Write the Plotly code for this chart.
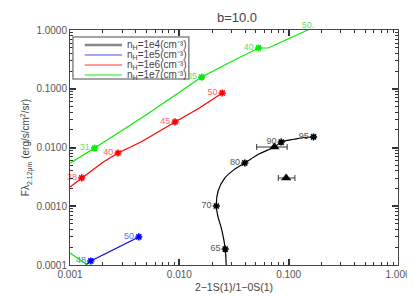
import plotly.graph_objects as go

# ---- data ----
# nH = 1e4 (black) curve
x_e4 = [0.0268, 0.0263, 0.0245, 0.0225, 0.0218, 0.0226, 0.0260, 0.0320, 0.0397, 0.0540, 0.0740, 0.0855, 0.1120, 0.1380, 0.1690]
y_e4 = [0.00010, 0.000187, 0.00039, 0.00068, 0.00101, 0.00180, 0.00300, 0.00425, 0.00545, 0.00780, 0.01020, 0.01240, 0.01380, 0.01480, 0.01510]
mk_e4_x = [0.0263, 0.0218, 0.0397, 0.0855, 0.1690]
mk_e4_y = [0.000187, 0.00101, 0.00545, 0.01240, 0.01510]
mk_e4_t = ["65", "70", "80", "90", "95"]

# nH = 1e5 (blue)
x_e5 = [0.00139, 0.00155, 0.00426]
y_e5 = [0.00010, 0.000117, 0.00030]
mk_e5_x = [0.00155, 0.00426]
mk_e5_y = [0.000117, 0.00030]
mk_e5_t = ["48", "50"]

# nH = 1e6 (red)
x_e6 = [0.00100, 0.00128, 0.00200, 0.00275, 0.00450, 0.00914, 0.01500, 0.02470]
y_e6 = [0.00213, 0.00303, 0.00560, 0.00806, 0.01250, 0.02720, 0.04600, 0.08470]
mk_e6_x = [0.00128, 0.00275, 0.00914, 0.02470]
mk_e6_y = [0.00303, 0.00806, 0.02720, 0.08470]
mk_e6_t = ["38", "40", "45", "50"]

# nH = 1e7 (green), two branches separated by None
x_e7 = [0.00100, 0.00145, None, 0.00100, 0.00168, 0.00500, 0.01600, 0.03000, 0.05300, 0.06500, 0.15000]
y_e7 = [0.00016, 0.00010, None, 0.00540, 0.00980, 0.03600, 0.15800, 0.29000, 0.49400, 0.49400, 1.00000]
mk_e7_x = [0.00168, 0.01600, 0.05300]
mk_e7_y = [0.00980, 0.15800, 0.49400]
mk_e7_t = ["31", "35", "40"]
end_e7_x = [0.15000]
end_e7_y = [1.00000]
end_e7_t = ["50."]

# observations (triangles with horizontal error bars)
obs_x = [0.0740, 0.0948]
obs_y = [0.0102, 0.00303]
obs_xlo = [0.0510, 0.0804]
obs_xhi = [0.0968, 0.1140]

legend_names = ["n<sub>H</sub>=1e4(cm⁻³)", "n<sub>H</sub>=1e5(cm⁻³)",
                "n<sub>H</sub>=1e6(cm⁻³)", "n<sub>H</sub>=1e7(cm⁻³)"]

FONT = "Liberation Sans, Arial, sans-serif"
series = [
    (x_e4, y_e4, mk_e4_x, mk_e4_y, mk_e4_t, "#000000", "#555555", "spline"),
    (x_e5, y_e5, mk_e5_x, mk_e5_y, mk_e5_t, "#0000ff", "#6666ff", "linear"),
    (x_e6, y_e6, mk_e6_x, mk_e6_y, mk_e6_t, "#ff0000", "#ff6666", "linear"),
    (x_e7, y_e7, mk_e7_x, mk_e7_y, mk_e7_t, "#00ee00", "#66dd66", "linear"),
]

fig = go.Figure()
for (lx, ly, mx, my, mt, col, tcol, shp), name in zip(series, legend_names):
    fig.add_trace(go.Scatter(x=lx, y=ly, mode="lines", line=dict(color=col, width=1.2, shape=shp),
                             showlegend=False, hoverinfo="skip", connectgaps=False))
    fig.add_trace(go.Scatter(x=mx, y=my, mode="markers+text", text=mt, textposition="middle left",
                             textfont=dict(family=FONT, size=9, color=tcol),
                             marker=dict(symbol="asterisk-open", size=6, color=col,
                                         line=dict(color=col, width=1.6)),
                             cliponaxis=False, showlegend=False))

# end label of the green curve (marker sits on the top axis)
fig.add_trace(go.Scatter(x=end_e7_x, y=end_e7_y, mode="text", text=end_e7_t, textposition="top center",
                         textfont=dict(family=FONT, size=9, color="#66dd66"),
                         cliponaxis=False, showlegend=False))

errs_plus = [h - c for h, c in zip(obs_xhi, obs_x)]
errs_minus = [c - l for c, l in zip(obs_x, obs_xlo)]
fig.add_trace(go.Scatter(x=obs_x, y=obs_y, mode="markers",
                         marker=dict(symbol="triangle-up", size=9, color="black"),
                         error_x=dict(type="data", symmetric=False, array=errs_plus, arrayminus=errs_minus,
                                      color="#333333", thickness=1, width=3),
                         showlegend=False))

# invisible trace to bring up the overlay axes that carry the minor ticks
fig.add_trace(go.Scatter(x=[None], y=[None], xaxis="x2", yaxis="y2", mode="markers",
                         showlegend=False, hoverinfo="skip"))

# manual legend box (paper coords)
L, R, T, B = 62, 396, 22, 257
W, H = 415, 297
def px(x):
    return (x - L) / (R - L)
def py(y):
    return (B - y) / (B - T)

shapes = [dict(type="rect", xref="paper", yref="paper", x0=px(65), x1=px(183), y0=py(71), y1=py(29),
               line=dict(color="#888888", width=1.5), fillcolor="white", layer="above")]
leg_cols = ["#888888", "#8888ff", "#ff7777", "#66ee66"]
leg_w = [2.5, 1.5, 1.5, 1.5]
annotations = []
for i, (nm, c) in enumerate(zip(legend_names, leg_cols)):
    yy = 37 + 10 * i
    shapes.append(dict(type="line", xref="paper", yref="paper", x0=px(77), x1=px(115), y0=py(yy), y1=py(yy),
                       line=dict(color=c, width=leg_w[i]), layer="above"))
    annotations.append(dict(xref="paper", yref="paper", x=px(118), y=py(yy), text=nm, showarrow=False,
                            xanchor="left", yanchor="middle", font=dict(family=FONT, size=10, color="#444444")))

def minor_vals(lo, hi):
    vals = []
    for e in range(lo, hi):
        for m in range(2, 10):
            vals.append(m * 10.0 ** e)
    return vals

def axis(lo, hi, fmt):
    return dict(type="log", range=[lo, hi], showgrid=False, zeroline=False, showline=True,
                linecolor="#444444", linewidth=1, mirror="allticks", ticks="inside", ticklen=6, tickwidth=1.5,
                tickcolor="#333333", tickfont=dict(family=FONT, size=10, color="#555555"),
                tickmode="array", tickvals=[10.0 ** e for e in range(lo, hi + 1)], tickformat=fmt)

def minor_axis(lo, hi, over, anchor):
    return dict(type="log", range=[lo, hi], overlaying=over, anchor=anchor, showgrid=False, zeroline=False,
                showline=False, mirror="allticks", ticks="inside", ticklen=3, tickwidth=1.2, tickcolor="#333333",
                showticklabels=False, tickmode="array", tickvals=minor_vals(lo, hi))

xa = axis(-3, 0, ".3f")
xa["title"] = dict(text="2−1S(1)/1−0S(1)", font=dict(family=FONT, size=10.5, color="#444444"), standoff=4)
ya = axis(-4, 0, ".4f")
ya["title"] = dict(text="Fλ<sub>2.12μm</sub> (erg/s/cm<sup>2</sup>/sr)",
                   font=dict(family=FONT, size=10, color="#444444"), standoff=4)

fig.update_layout(
    width=W, height=H, margin=dict(l=L, r=W - R, t=T, b=H - B),
    paper_bgcolor="white", plot_bgcolor="white",
    title=dict(text="b=10.0", x=0.5 * (L + R) / W, xanchor="center", y=1 - 9 / H, yanchor="middle",
               font=dict(family=FONT, size=13, color="#444444")),
    xaxis=xa, yaxis=ya,
    xaxis2=minor_axis(-3, 0, "x", "y2"),
    yaxis2=minor_axis(-4, 0, "y", "x2"),
    shapes=shapes, annotations=annotations, showlegend=False,
)

fig.write_html("out.html")
